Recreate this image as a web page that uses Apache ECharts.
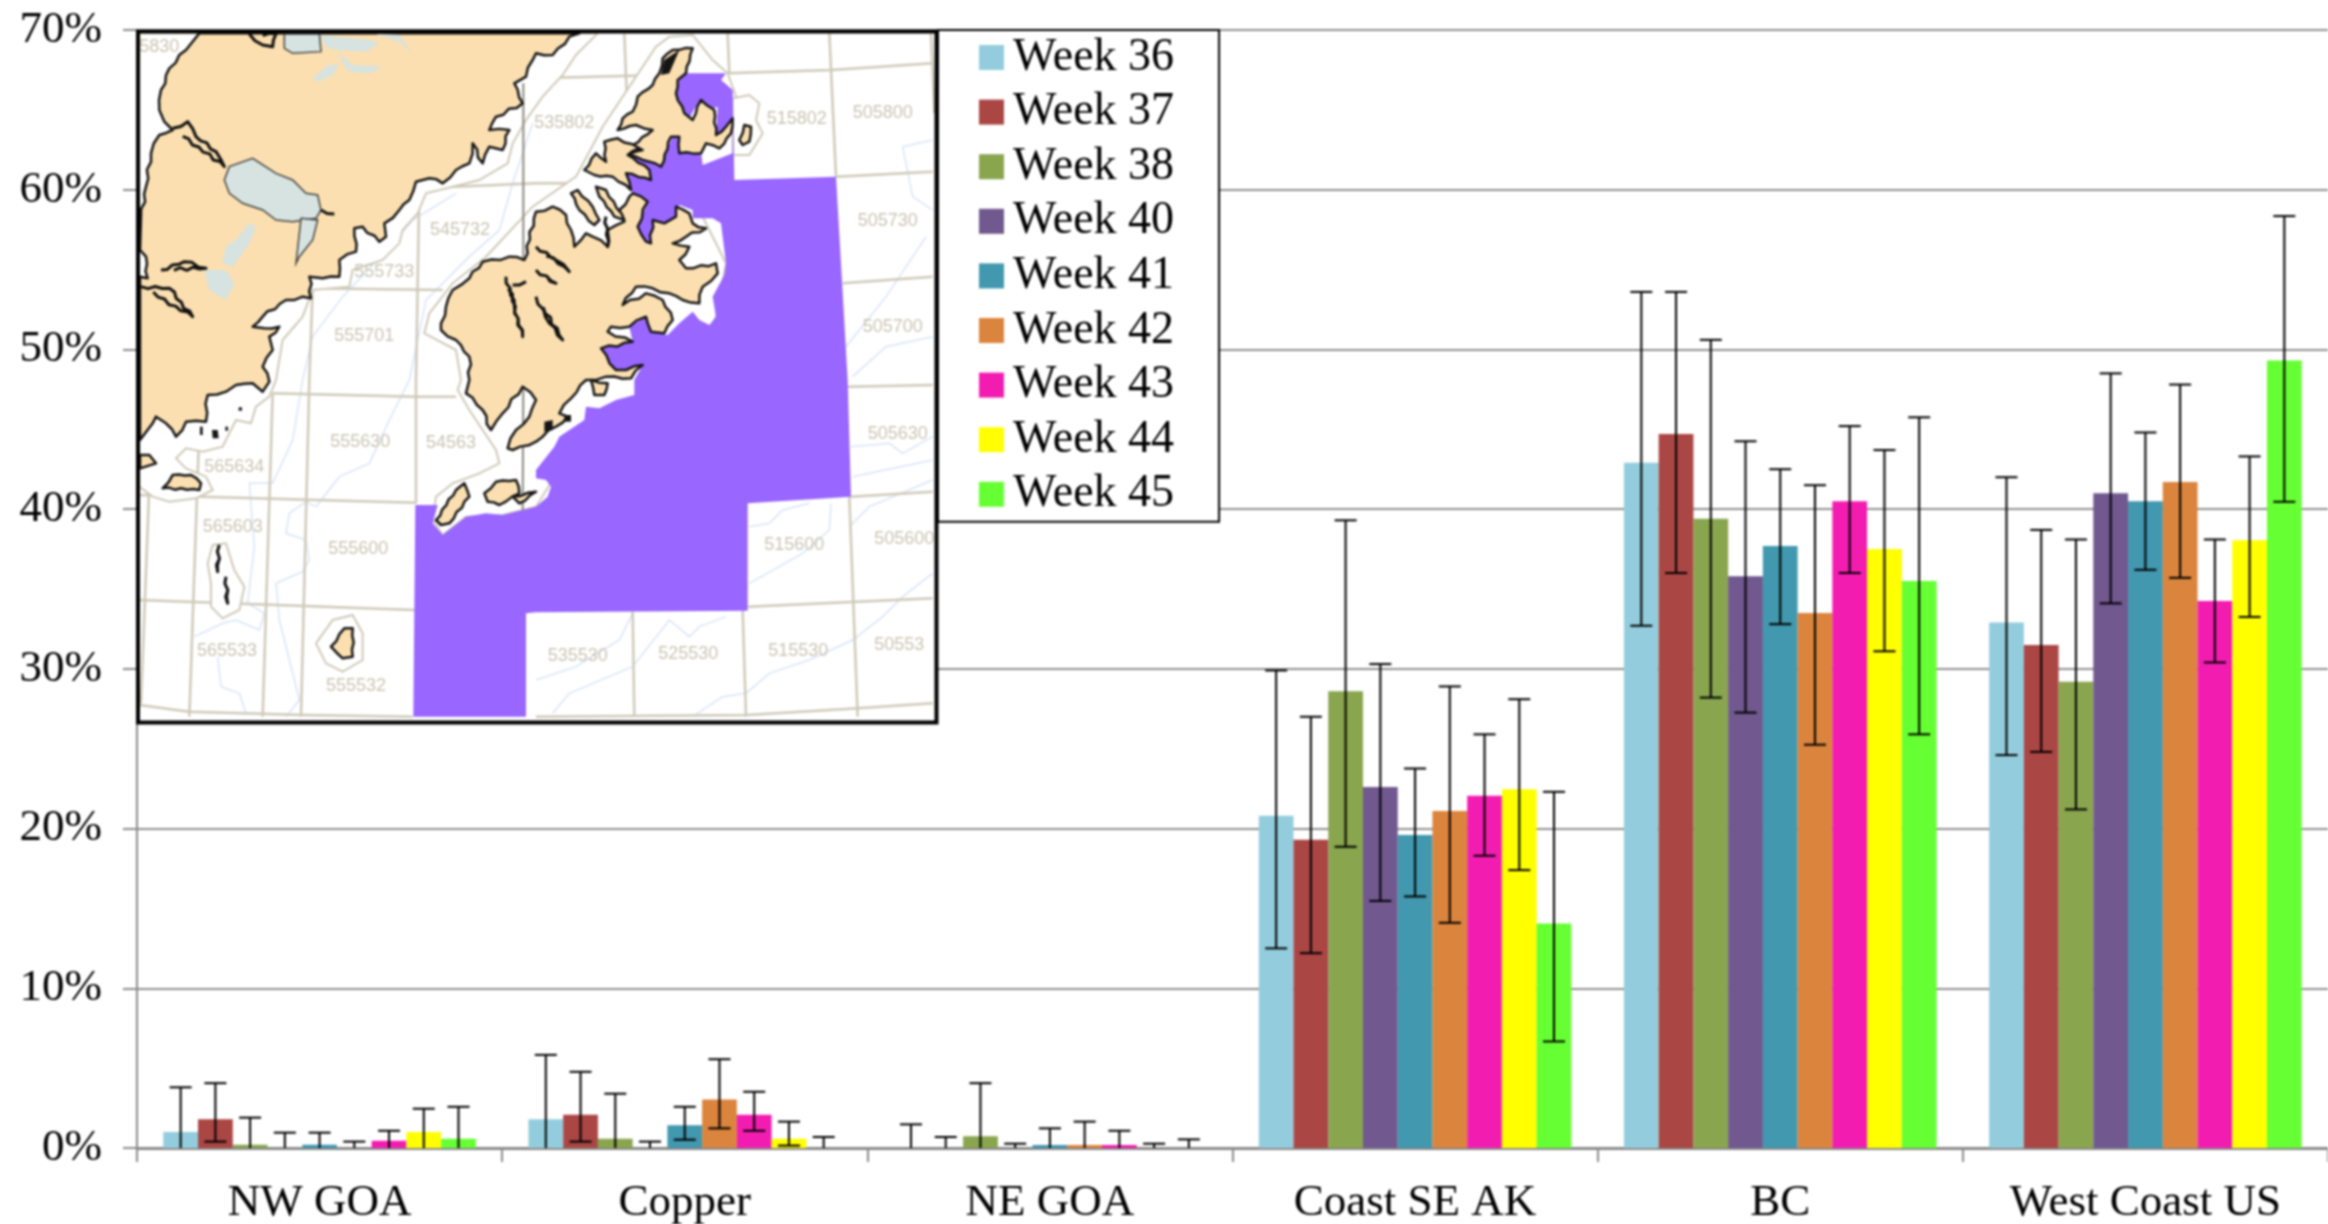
<!DOCTYPE html>
<html><head><meta charset="utf-8">
<style>html,body{margin:0;padding:0;background:#fff}#c{width:2328px;height:1224px;filter:blur(0.8px)}</style>
<script src="https://cdn.jsdelivr.net/npm/echarts@6/dist/echarts.min.js"></script>
</head><body><div id="c"></div>
<script>
const categories = ['NW GOA','Copper','NE GOA','Coast SE AK','BC','West Coast US'];
const weeks = ['Week 36','Week 37','Week 38','Week 40','Week 41','Week 42','Week 43','Week 44','Week 45'];
const yTicks = [0,10,20,30,40,50,60,70];

const week36 = [1.0,1.8,0,20.8,42.9,32.9];
const week37 = [1.8,2.08,0,19.3,44.7,31.5];
const week38 = [0.2,0.58,0.73,28.6,39.4,29.2];
const week40 = [0,0,0,22.6,35.8,41.0];
const week41 = [0.2,1.42,0.19,19.6,37.7,40.5];
const week42 = [0,3.04,0.19,21.1,33.5,41.7];
const week43 = [0.46,2.08,0.19,22.06,40.5,34.25];
const week44 = [1.0,0.58,0,22.46,37.5,38.06];
const week45 = [0.58,0,0,14.05,35.5,49.3];

const upper36 = [3.8,5.83,1.48,29.9,53.6,42.0];
const upper37 = [4.06,4.77,0.69,27.0,53.6,38.7];
const upper38 = [1.9,3.4,4.06,39.3,50.6,38.1];
const upper40 = [0.96,0.4,0.27,30.3,44.25,48.5];
const upper41 = [0.96,2.58,1.23,23.76,42.5,44.8];
const upper42 = [0.4,5.56,1.65,28.9,41.5,47.8];
const upper43 = [1.08,3.52,1.08,25.9,45.2,38.1];
const upper44 = [2.46,1.65,0.27,28.1,43.7,43.3];
const upper45 = [2.58,0.69,0.54,22.3,45.75,58.35];

const lower36 = [0,0,0,12.5,32.7,24.6];
const lower37 = [0.4,0.4,0,12.2,36.0,24.8];
const lower38 = [0,0,0,18.86,28.2,21.2];
const lower40 = [0,0,0,15.47,27.26,34.1];
const lower41 = [0,0.52,0,15.75,32.8,36.2];
const lower42 = [0,1.23,0,14.1,25.25,35.7];
const lower43 = [0,1.08,0,18.3,36.0,30.4];
const lower44 = [0,0.15,0,17.4,31.1,33.25];
const lower45 = [0,0,0,6.67,25.9,40.46];

const barColors = ['#93CDDD','#AA4644','#89A54E','#71588F','#4198AF','#DB843D','#F21DB0','#FFFF00','#66FF33'];
const values = [week36,week37,week38,week40,week41,week42,week43,week44,week45];
const uppers = [upper36,upper37,upper38,upper40,upper41,upper42,upper43,upper44,upper45];
const lowers = [lower36,lower37,lower38,lower40,lower41,lower42,lower43,lower44,lower45];

/* ---- inset map artwork (a picture in the reference, traced in crop coordinates) ---- */
const PANEL = {A:[0,0],B:[1200,0],C:[0,1050],D:[1200,1050]};
function m(){ // m('A',x,y,x,y,...,'B',x,y,...)
  const out=[]; let p=PANEL.A;
  for(let i=0;i<arguments.length;){
    if(typeof arguments[i]==='string'){p=PANEL[arguments[i]];i++;continue;}
    out.push([136+(arguments[i]+p[0])/3,30+(arguments[i+1]+p[1])/3]); i+=2;
  }
  return out;
}
// rough coastline: each traced edge is broken into short zig-zag steps
function rough(pts,amp,step){
  const pat=[1,-0.6,0.4,-1,0.7,-0.3,1,-0.8];
  const out=[];let n=0;
  for(let i=0;i<pts.length;i++){
    const a=pts[i],b=pts[(i+1)%pts.length];
    const dx=b[0]-a[0],dy=b[1]-a[1],len=Math.hypot(dx,dy);
    out.push(a);
    if(a[0]<141||a[1]<34||b[0]<141||b[1]<34) continue; // frame edges stay straight
    const k=Math.floor(len/step);
    for(let j=1;j<k;j++){
      const t=j/k,o=pat[n++%pat.length]*amp;
      out.push([a[0]+dx*t-dy/len*o,a[1]+dy*t+dx/len*o]);
    }
  }
  return out;
}
const mapPurple = m('B',435,130,570,130,555,150,590,180,595,450,900,440,935,1050,
  'D',945,350,635,370,635,692,0,697,
  'C',1170,700,1170,1010,832,1010,838,375,905,375,890,430,920,465,990,410,1050,400,1100,405,1200,380,
  'D',35,350,45,320,30,300,0,295,0,270,55,200,70,170,145,120,150,80,190,85,240,60,295,45,295,0,
  'B',320,1005,270,1020,240,1030,195,955,290,935,280,890,330,860,345,905,395,915,430,880,470,845,490,870,520,885,540,860,530,800,565,735,570,700,555,580,530,565,470,565,470,540,430,525,415,570,385,580,350,570,345,640,315,630,305,590,335,515,290,490,270,430,345,450,345,430,275,375,370,405,410,320,430,320,430,370,495,365,500,405,590,370,590,300,540,315,545,230,520,240,490,210,460,265,425,240,420,190);
const bufferMain = m('B',185,10,120,75,80,135,20,200,'A',1170,270,1130,340,1115,400,1030,450,950,470,870,490,845,550,800,600,790,640,740,690,650,720,640,770,530,780,500,860,440,930,420,1050,
  'C',400,50,360,80,345,130,300,120,260,200,200,215,150,205,120,235,150,265,210,290,230,330,180,355,100,365,50,350,10,320,10,10,'A',10,10);
const bufferKodiak = m('A',865,910,880,850,950,760,1050,680,1190,530,'B',120,440,200,290,360,50,400,20,470,15,530,90,575,130,600,200,595,370,
  'B',500,560,570,700,540,860,480,1000,'D',150,150,50,300,0,380,'C',1100,405,990,410,920,465,890,420,900,350,950,310,1030,280,1090,250,1080,210,1000,90,965,30,'A',975,1050,960,960);
const bufferRings = [
  m('B',590,205,640,195,670,220,660,270,680,310,640,375,590,375),
  m('C',540,790,590,720,650,705,680,760,680,840,620,875,570,850),
  m('C',215,550,230,495,270,490,295,570,325,620,310,690,260,715,225,680,225,610)
];
const landMain = m('A',190,10,150,60,100,115,75,180,70,240,85,275,110,300,70,315,45,370,30,470,15,560,12,660,30,680,35,745,12,740,
  'C',12,180,50,130,60,110,90,130,120,170,150,125,210,125,215,45,270,35,300,15,350,10,380,35,400,5,
  'A',380,1010,410,960,400,920,430,890,385,895,350,890,380,860,450,810,500,800,525,805,520,740,560,745,610,740,610,690,660,665,655,595,680,590,730,635,750,620,745,580,790,540,820,510,840,455,880,445,920,460,960,420,1000,400,1010,340,1040,400,1060,350,1100,360,1120,300,1060,300,1080,260,1160,220,1135,160,1170,140,1190,90,
  'B',0,70,50,75,100,20,130,10);
const landOther = [
  m('A',915,880,930,830,950,780,1000,745,1040,695,1120,680,1165,690,'B',0,545,50,530,90,555,105,600,115,650,150,610,170,620,215,650,215,600,265,575,250,540,280,500,290,490,335,515,305,590,330,635,345,640,350,570,385,580,420,560,420,530,460,550,470,580,510,595,450,620,410,640,460,650,430,690,450,715,540,700,545,730,500,770,490,820,440,810,400,790,350,775,300,770,260,825,330,790,380,810,410,870,385,910,345,905,330,860,280,890,225,890,215,905,290,935,195,955,240,1020,270,1020,320,1005,285,1045,210,1040,150,1050,'D',105,55,70,100,95,110,60,140,20,170,0,185,'C',1130,210,1115,205,1140,150,1180,110,1200,60,1160,20,1100,100,1065,150,1040,90,990,40,1000,0,'A',1000,980,960,930,915,900),
  m('B',105,490,125,480,170,530,190,570,175,585,130,540),
  m('B',180,470,210,480,265,570,235,560,190,500),
  m('B',370,130,380,85,410,60,470,55,450,130,425,150,420,190,445,250,470,270,495,210,535,240,540,315,570,290,590,265,585,310,550,355,510,340,495,370,430,370,430,320,405,320,375,410,340,395,275,375,320,360,290,345,350,300,300,285,245,300,260,265,290,245,305,200,350,165),
  m('B',145,420,180,370,210,395,205,335,245,325,310,355,275,375,340,420,345,450,270,430,285,480,230,440,175,435),
  m('B',610,330,625,285,645,290,640,335,620,345),
  m('C',585,800,625,745,650,745,650,830,620,835),
  m('C',900,420,960,330,985,310,1000,350,940,430,915,435),
  m('C',1045,340,1080,305,1140,300,1150,340,1090,375,1055,365),
  m('C',1130,350,1200,335,1150,370),
  m('C',12,225,40,225,60,250,12,265),
  m('C',80,325,110,285,165,285,195,310,190,330),
  m('D',165,0,215,10,205,45,175,45)
];
const blackSpecks = [
  m('C',228,150,245,150,248,175,230,175),
  m('C',192,140,200,140,200,165,192,165),
  m('C',268,140,276,140,276,152,268,152),
  m('C',308,82,318,82,318,92,308,92),
  m('B',385,90,430,60,400,130,375,135),
  m('D',85,105,105,105,105,125,85,125),
  m('D',25,125,50,120,50,150,25,155)
];
const lakesOutlined = [
  m('A',265,450,280,410,350,385,420,430,470,450,510,490,545,495,555,540,540,565,470,575,420,570,380,540,320,520,280,490),
  m('A',495,565,545,570,530,630,490,680,480,700),
  m('A',445,12,550,12,555,65,470,70,445,55)
];
const lakesPlain = [
  m('A',550,15,700,30,730,40,690,65,600,60,570,50),
  m('A',610,70,650,105,740,110,700,130,640,125,615,90),
  m('A',530,145,570,110,610,100,590,135,545,155),
  m('A',720,12,790,15,830,70,790,35),
  m('A',340,580,360,590,340,640,290,710,260,700,270,650,300,630),
  m('A',205,720,270,720,295,760,270,810,220,780)
];
const blackLines = [
  m('A',110,295,155,275,180,320,240,365,265,410),
  m('A',75,720,145,695,210,715),
  m('A',15,770,100,775,170,860),
  m('A',555,540,595,552),
  m('A',340,12,380,45,410,50,420,12),
  m('A',1130,765,1170,755),
  m('A',1110,740,1135,830,1160,920),
  m('B',0,650,60,690,100,725),
  m('B',0,720,60,760),
  m('B',0,800,40,880,80,930),
  m('B',210,560,215,650),
  m('C',250,495,245,575),
  m('C',270,590,275,670)
];
const tanLines = [
  m('A',10,105,90,110),
  m('B',0,145,575,130,885,120,1190,100),
  m('A',850,475,1200,460,'B',120,460),
  m('B',900,440,1190,425),
  m('B',920,760,1190,740),
  m('A',525,775,920,780),
  m('C',410,40,840,50,960,50),
  m('C',10,345,840,368),
  m('C',10,660,835,690),
  m('C',10,975,160,995,500,1005,830,1010),
  m('D',0,1010,635,1005,965,985,1190,970),
  m('D',935,20,1190,15),
  m('D',945,350,1190,335),
  m('D',635,680,1190,655),
  m('A',850,470,840,1050,'C',840,370),
  m('A',530,775,520,1050,'C',495,1010),
  m('C',410,40,380,1010),
  m('C',190,140,160,1010),
  m('C',40,310,15,970),
  m('B',265,10,275,270),
  m('B',575,10,580,130),
  m('B',880,10,900,440),
  m('D',620,690,630,1010),
  m('D',290,695,295,1010),
  m('D',940,350,965,1010),
  m('B',1185,10,1195,250)
];
const darkLine = m('A',1162,160,1162,1050,'C',1160,400);
const blueLines = [
  m('C',175,770,260,730,300,720,370,750,385,700,335,670,355,500,340,310,410,310,470,180,500,0),
  m('C',245,830,255,920,310,940,330,1000),
  m('C',540,380,610,290,700,250,760,120,820,0),
  m('C',540,380,510,365,460,400,450,460,510,480,520,540,500,575,420,610,430,720,490,960,450,1010),
  m('A',500,1050,530,920,620,800,780,630,830,570,960,490),
  m('A',820,1050,870,810,1000,680,1090,600,1130,460,1190,280),
  m('D',640,440,700,430,740,390,820,370),
  m('D',640,610,800,520,880,450,885,370),
  m('D',945,200,1060,190,1100,220,1190,170),
  m('D',950,290,1190,240),
  m('D',940,440,1000,380,1190,300),
  m('D',630,940,700,880,820,840,950,780,1040,710,1100,650,1190,580),
  m('D',470,1010,560,950,630,940),
  m('D',0,900,120,860,250,780,290,700),
  m('D',50,1000,100,940,290,860,400,720,460,770,490,740,570,710),
  m('B',1100,350,1190,330),
  m('B',1100,350,1130,500,1190,540),
  m('B',930,950,1050,800,1170,620),
  m('B',950,1040,1050,950,1190,920)
];
const mapLabels = [
  ['5830','A',70,50],['555701','A',685,918],['545732','A',972,600],['555733','A',745,725],
  ['535802','B',85,278],['515802','B',782,268],['505800','B',1040,250],['505730','B',1055,573],['505700','B',1070,890],
  ['555630','C',673,185],['54563','C',945,190],['565634','C',295,262],['565603','C',290,440],['555600','C',667,507],['565533','C',273,812],['555532','C',660,918],
  ['505630','D',1085,162],['515600','D',775,495],['505600','D',1105,478],['535530','D',125,828],['525530','D',457,823],['515530','D',787,812],['50553','D',1090,795]
];

const Z=100; let zz=0; const gfx=[];
function poly(points,style){gfx.push({type:'polygon',silent:true,z:Z,shape:{points},style,z2:zz++});}
function line(points,style){gfx.push({type:'polyline',silent:true,z:Z,shape:{points},style:Object.assign({fill:null},style),z2:zz++});}
gfx.push({type:'rect',silent:true,z:Z,z2:zz++,shape:{x:138,y:31.5,width:798.5,height:691},style:{fill:'#fff'}});
blueLines.forEach(p=>line(p,{stroke:'#d8e4f8',lineWidth:1.5}));
tanLines.forEach(p=>line(p,{stroke:'#cfc9b8',lineWidth:2.5}));
poly(bufferMain,{fill:'#fff',stroke:'#cfc9b8',lineWidth:2});
poly(bufferKodiak,{fill:'#fff',stroke:'#cfc9b8',lineWidth:2});
bufferRings.forEach(p=>poly(p,{fill:'#fff',stroke:'#cfc9b8',lineWidth:2}));
line(darkLine,{stroke:'#8b887b',lineWidth:2});
mapLabels.forEach(l=>{const pt=m(l[1],l[2],l[3])[0];gfx.push({type:'text',silent:true,z:Z,z2:zz++,x:pt[0],y:pt[1],style:{text:l[0],fill:'#c9c4b2',font:'18px "Liberation Sans"',align:'center',verticalAlign:'middle'}});});
poly(mapPurple,{fill:'#9966FF'});
poly(rough(landMain,1.6,7),{fill:'#FBDFB0',stroke:'#151515',lineWidth:2.5,lineJoin:'round'});
landOther.forEach((p,i)=>poly(i===0?rough(p,1.6,7):rough(p,1,6),{fill:'#FBDFB0',stroke:'#151515',lineWidth:2.5,lineJoin:'round'}));
blackSpecks.forEach(p=>poly(p,{fill:'#151515'}));
lakesPlain.forEach(p=>poly(p,{fill:'#D6E3E1'}));
lakesOutlined.forEach(p=>poly(p,{fill:'#D6E3E1',stroke:'#444',lineWidth:1.5}));
blackLines.forEach(p=>{const r=rough(p,1.6,6);r.pop();line(r,{stroke:'#111',lineWidth:3,lineJoin:'round'});});
gfx.push({type:'rect',silent:true,z:Z,z2:zz++,shape:{x:138,y:31.5,width:798.5,height:691},style:{fill:null,stroke:'#000',lineWidth:4}});

const FONT='"Liberation Serif"';
const series=[];
weeks.forEach((w,i)=>{
  series.push({name:w,type:'bar',barGap:0,barCategoryGap:'14.4%',data:values[i],itemStyle:{color:barColors[i]},z:2,animation:false});
});
weeks.forEach((w,i)=>{
  series.push({name:w+' error',type:'custom',z:3,animation:false,silent:true,clip:false,
    data:categories.map((c,k)=>[k,lowers[i][k],uppers[i][k]]),
    encode:{x:0,y:[1,2]},
    renderItem:function(params,api){
      const band=api.size([1,0])[0];
      const bw=band*(1-0.144)/9;
      const base=api.coord([api.value(0),0]);
      const x=base[0]+(i-4)*bw;
      const lo=api.value(1),hi=api.value(2);
      const yl=api.coord([api.value(0),lo])[1];
      const yh=api.coord([api.value(0),hi])[1];
      const st={stroke:'#000',lineWidth:2,fill:null};
      const kids=[
        {type:'line',shape:{x1:x,y1:yl,x2:x,y2:yh},style:st},
        {type:'line',shape:{x1:x-11,y1:yh,x2:x+11,y2:yh},style:st}
      ];
      if(lo>0) kids.push({type:'line',shape:{x1:x-11,y1:yl,x2:x+11,y2:yl},style:st});
      return {type:'group',children:kids};
    }});
});

const chart=echarts.init(document.getElementById('c'),null,{renderer:'canvas',width:2328,height:1224});
chart.setOption({
  animation:false,
  backgroundColor:'#fff',
  grid:{left:137,right:0,top:30,bottom:76,containLabel:false,outerBoundsMode:'none'},
  legend:{show:true,data:weeks,orient:'vertical',left:938,top:30,z:200,selectedMode:false,
    padding:[2,45,2,41],itemGap:3.6,itemWidth:25,itemHeight:25,
    backgroundColor:'#fff',borderColor:'#000',borderWidth:2,icon:'rect',
    textStyle:{fontFamily:FONT,fontSize:46,lineHeight:44,padding:[7,0,0,4],color:'#000'}},
  xAxis:{type:'category',data:categories,boundaryGap:true,
    axisLine:{show:true,lineStyle:{color:'#8a8a8a',width:3}},
    axisTick:{show:true,length:14,alignWithLabel:false,lineStyle:{color:'#8a8a8a',width:2}},
    axisLabel:{interval:0,margin:33,fontFamily:FONT,fontSize:45,color:'#000'},
    splitLine:{show:false}},
  yAxis:{type:'value',min:0,max:70,interval:10,
    axisLine:{show:true,lineStyle:{color:'#8a8a8a',width:2}},
    axisTick:{show:true,length:14,lineStyle:{color:'#8a8a8a',width:2}},
    axisLabel:{margin:35,padding:[2,0,0,0],fontFamily:FONT,fontSize:45,color:'#000',formatter:'{value}%'},
    splitLine:{show:true,lineStyle:{color:'#8f8f8f',width:2}}},
  graphic:{elements:gfx},
  series
});
</script></body></html>
